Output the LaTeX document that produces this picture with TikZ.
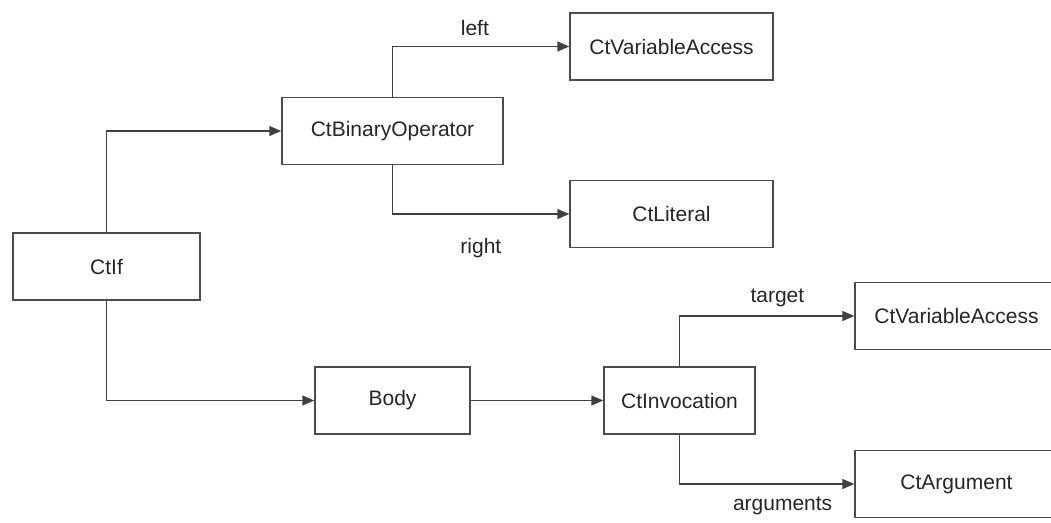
\documentclass[tikz,border=0pt]{standalone}
\usepackage{fontspec}
\setmainfont{Liberation Sans}
\usetikzlibrary{arrows.meta}
\begin{document}
\begin{tikzpicture}[x=1pt, y=-1pt,
		b/.style = {rectangle, draw=black!70, line width=1.5pt, fill=white, minimum height=67, inner sep=0, text=black!85, font=\fontsize{21}{25}\selectfont},
		l/.style = {text=black!85, font=\fontsize{21}{25}\selectfont},
		r/.style = {-{Triangle[length=12pt, width=10pt]}, line width=1.5pt, draw=black!75}
		]
		\useasboundingbox (0, 0) rectangle (1051, 522);
		\clip (0, 0) rectangle (1051, 522);
		
		%Nodes
		\node[b, minimum width=187]	(ctif)	at	(106.5, 266.5)	{CtIf};
		\node[b, minimum width=221]	(binop)	at	(392.5, 131)	{CtBinaryOperator};
		\node[b, minimum width=203]	(var1)	at	(671.5, 46.5)	{CtVariableAccess};
		\node[b, minimum width=203]	(lit)	at	(671.5, 214)	{CtLiteral};
		\node[b, minimum width=155]	(body)	at	(392.5, 400.5)	{Body};
		\node[b, minimum width=151]	(inv)	at	(679.5, 400.5)	{CtInvocation};
		\node[b, minimum width=203]	(var2)	at	(956.5, 316)	{CtVariableAccess};
		\node[b, minimum width=203]	(arg)	at	(956.5, 484)	{CtArgument};
		
		%Lines
		\draw[r]	(ctif.north)	|-	(binop.west);
		\draw[r]	(ctif.south)	|-	(body.west);
		\draw[r]	(binop.north)	|-	node[l, pos=0.733, yshift=19]	{left}		(var1.west);
		\draw[r]	(binop.south)	|-	node[l, pos=0.75, yshift=-34]	{right}		(lit.west);
		\draw[r]	(body.east)		--	(inv.west);
		\draw[r]	(inv.north)		|-	node[l, pos=0.78, yshift=18]	{target}	(var2.west);
		\draw[r]	(inv.south)		|-	node[l, pos=0.795, yshift=-22]	{arguments}	(arg.west);
	\end{tikzpicture}
\end{document}
